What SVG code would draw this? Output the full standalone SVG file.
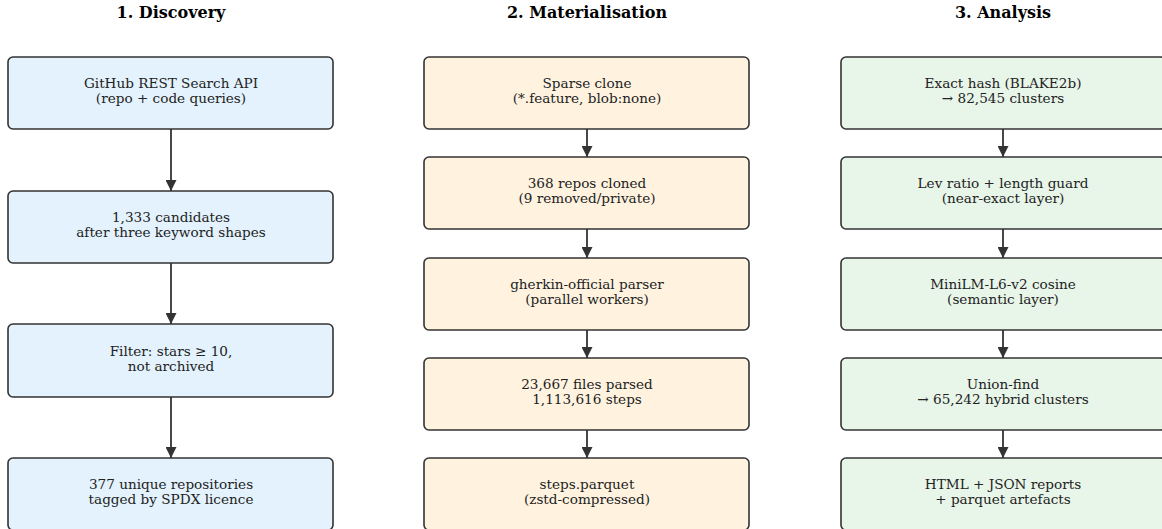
<svg xmlns="http://www.w3.org/2000/svg" width="1162" height="529" viewBox="0 0 1162 529">
<style>
.t{font-family:"DejaVu Serif",serif;font-size:16px;font-weight:bold;fill:#000;text-anchor:middle}
.l{font-family:"DejaVu Serif",serif;font-size:13.6px;fill:#222;text-anchor:middle}
.b{stroke:#333;stroke-width:1.6}
.c1{fill:#e3f2fd}.c2{fill:#fff3e0}.c3{fill:#e8f5e9}
.a{stroke:#333;stroke-width:1.8;fill:none;marker-end:url(#ah)}
</style>
<defs>
<marker id="ah" viewBox="0 0 11 11" refX="11" refY="5.5" markerWidth="11" markerHeight="11" markerUnits="userSpaceOnUse" orient="auto">
<path d="M0,0 L11,5.5 L0,11 z" fill="#333"/>
</marker>
</defs>
<rect width="1162" height="529" fill="#fff"/>
<text class="t" x="171" y="18">1. Discovery</text>
<text class="t" x="587" y="18">2. Materialisation</text>
<text class="t" x="1003" y="18">3. Analysis</text>

<g id="connectors">
<line class="a" x1="171" y1="129" x2="171" y2="191"/>
<line class="a" x1="171" y1="263" x2="171" y2="324"/>
<line class="a" x1="171" y1="397" x2="171" y2="458"/>
<line class="a" x1="587" y1="129" x2="587" y2="157"/>
<line class="a" x1="587" y1="229" x2="587" y2="258"/>
<line class="a" x1="587" y1="330" x2="587" y2="358"/>
<line class="a" x1="587" y1="430" x2="587" y2="458"/>
<line class="a" x1="1003" y1="129" x2="1003" y2="157"/>
<line class="a" x1="1003" y1="229" x2="1003" y2="258"/>
<line class="a" x1="1003" y1="330" x2="1003" y2="358"/>
<line class="a" x1="1003" y1="430" x2="1003" y2="458"/>
</g>

<g id="d1"><rect class="b c1" x="8" y="57" width="325" height="72" rx="5"/>
<text class="l" x="171" y="88">GitHub REST Search API</text><text class="l" x="171" y="103">(repo + code queries)</text></g>
<g id="d2"><rect class="b c1" x="8" y="191" width="325" height="72" rx="5"/>
<text class="l" x="171" y="222">1,333 candidates</text><text class="l" x="171" y="237">after three keyword shapes</text></g>
<g id="d3"><rect class="b c1" x="8" y="324" width="325" height="73" rx="5"/>
<text class="l" x="171" y="356">Filter: stars ≥ 10,</text><text class="l" x="171" y="371">not archived</text></g>
<g id="d4"><rect class="b c1" x="8" y="458" width="325" height="72" rx="5"/>
<text class="l" x="171" y="489">377 unique repositories</text><text class="l" x="171" y="504">tagged by SPDX licence</text></g>

<g id="m1"><rect class="b c2" x="424" y="57" width="325" height="72" rx="5"/>
<text class="l" x="587" y="88">Sparse clone</text><text class="l" x="587" y="103">(*.feature, blob:none)</text></g>
<g id="m2"><rect class="b c2" x="424" y="157" width="325" height="72" rx="5"/>
<text class="l" x="587" y="188">368 repos cloned</text><text class="l" x="587" y="203">(9 removed/private)</text></g>
<g id="m3"><rect class="b c2" x="424" y="258" width="325" height="72" rx="5"/>
<text class="l" x="587" y="289">gherkin-official parser</text><text class="l" x="587" y="304">(parallel workers)</text></g>
<g id="m4"><rect class="b c2" x="424" y="358" width="325" height="72" rx="5"/>
<text class="l" x="587" y="389">23,667 files parsed</text><text class="l" x="587" y="404">1,113,616 steps</text></g>
<g id="m5"><rect class="b c2" x="424" y="458" width="325" height="72" rx="5"/>
<text class="l" x="587" y="489">steps.parquet</text><text class="l" x="587" y="504">(zstd-compressed)</text></g>

<g id="a1"><rect class="b c3" x="841" y="57" width="325" height="72" rx="5"/>
<text class="l" x="1003" y="88">Exact hash (BLAKE2b)</text><text class="l" x="1003" y="103">→ 82,545 clusters</text></g>
<g id="a2"><rect class="b c3" x="841" y="157" width="325" height="72" rx="5"/>
<text class="l" x="1003" y="188">Lev ratio + length guard</text><text class="l" x="1003" y="203">(near-exact layer)</text></g>
<g id="a3"><rect class="b c3" x="841" y="258" width="325" height="72" rx="5"/>
<text class="l" x="1003" y="289">MiniLM-L6-v2 cosine</text><text class="l" x="1003" y="304">(semantic layer)</text></g>
<g id="a4"><rect class="b c3" x="841" y="358" width="325" height="72" rx="5"/>
<text class="l" x="1003" y="389">Union-find</text><text class="l" x="1003" y="404">→ 65,242 hybrid clusters</text></g>
<g id="a5"><rect class="b c3" x="841" y="458" width="325" height="72" rx="5"/>
<text class="l" x="1003" y="489">HTML + JSON reports</text><text class="l" x="1003" y="504">+ parquet artefacts</text></g>
</svg>
